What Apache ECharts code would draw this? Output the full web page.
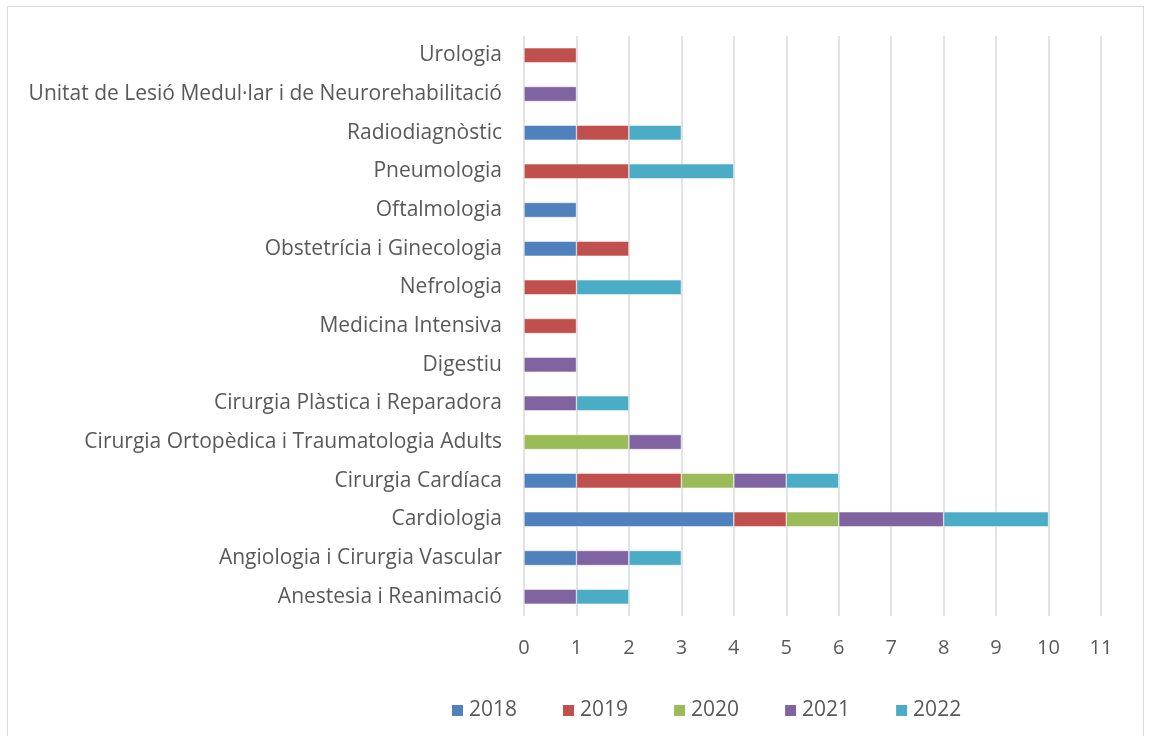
<!DOCTYPE html>
<html style="height: 100%;">
  <head>
    <meta charset="utf-8" />
  </head>
  <body style="height: 100%; margin: 0; background: #fff;">
    <div id="container" style="position: absolute; left: 0; top: 0; width: 1149px; height: 736px;"></div>
    <div style="position: absolute; left: 7px; top: 6px; width: 1135px; height: 740px; border: 1.5px solid #d9d9d9; pointer-events: none;"></div>
    <script src="https://cdn.jsdelivr.net/npm/echarts@6/dist/echarts.min.js"></script>
    <script type="text/javascript">
      var categories = [
        "Anestesia i Reanimació",
        "Angiologia i Cirurgia Vascular",
        "Cardiologia",
        "Cirurgia Cardíaca",
        "Cirurgia Ortopèdica i Traumatologia Adults",
        "Cirurgia Plàstica i Reparadora",
        "Digestiu",
        "Medicina Intensiva",
        "Nefrologia",
        "Obstetrícia i Ginecologia",
        "Oftalmologia",
        "Pneumologia",
        "Radiodiagnòstic",
        "Unitat de Lesió Medul·lar i de Neurorehabilitació",
        "Urologia"
      ];
      var years = ["2018", "2019", "2020", "2021", "2022"];
      var v2018 = [0, 1, 4, 1, 0, 0, 0, 0, 0, 1, 1, 0, 1, 0, 0];
      var v2019 = [0, 0, 1, 2, 0, 0, 0, 1, 1, 1, 0, 2, 1, 0, 1];
      var v2020 = [0, 0, 1, 1, 2, 0, 0, 0, 0, 0, 0, 0, 0, 0, 0];
      var v2021 = [1, 1, 2, 1, 1, 1, 1, 0, 0, 0, 0, 0, 0, 1, 0];
      var v2022 = [1, 1, 2, 1, 0, 1, 0, 0, 2, 0, 0, 2, 1, 0, 0];
      var values = [v2018, v2019, v2020, v2021, v2022];
      var colors = ["#4f81bd", "#c0504d", "#9bbb59", "#8064a2", "#4bacc6"];

      var font = "'Open Sans', 'Noto Sans', sans-serif";
      var dom = document.getElementById("container");
      var myChart = echarts.init(dom);

      var series = years.map(function (y, i) {
        return {
          name: y,
          type: "bar",
          stack: "total",
          barWidth: 15,
          itemStyle: { color: colors[i], borderColor: "#fff", borderWidth: 0.5 },
          data: values[i].map(function (v) { return v === 0 ? null : v; })
        };
      });

      var option = {
        animation: false,
        backgroundColor: "#fff",
        color: colors,
        grid: { left: 524, right: 48, top: 36, bottom: 120, containLabel: false },
        legend: {
          bottom: 10,
          left: 445,
          itemWidth: 13,
          itemHeight: 13,
          itemGap: 44,
          icon: "rect",
          textStyle: { fontFamily: font, fontSize: 21, color: "#595959" },
          data: years
        },
        xAxis: {
          type: "value",
          min: 0,
          max: 11,
          interval: 1,
          axisLine: { show: false },
          axisTick: { show: false },
          axisLabel: { fontFamily: font, fontSize: 20, color: "#595959", margin: 22 },
          splitLine: { show: true, lineStyle: { color: "#d9d9d9", width: 1.5 } }
        },
        yAxis: {
          type: "category",
          data: categories,
          axisLine: { show: false },
          axisTick: { show: false },
          axisLabel: { fontFamily: font, fontSize: 21, color: "#595959", margin: 22 },
          splitLine: { show: false }
        },
        series: series
      };

      myChart.setOption(option);
    </script>
  </body>
</html>
